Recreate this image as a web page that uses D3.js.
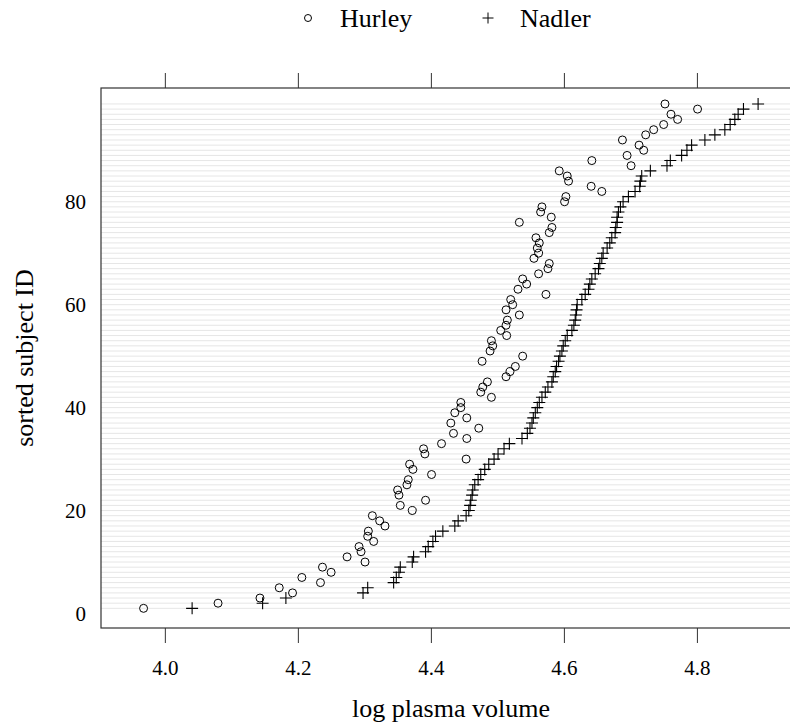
<!DOCTYPE html>
<html>
<head>
    <title>Plasma volume dot plot</title>
    <script src="https://d3js.org/d3.v7.min.js"></script>
    <style>
        body { margin: 0; background: #fff; }
        svg text { font-family: "Liberation Serif", "Times New Roman", serif; fill: #000; }
    </style>
</head>
<body>
<svg id="chart" width="790" height="728"></svg>

<script>
    // subject IDs sorted by Nadler value
    const subjectIds = d3.range(1, 100);

    const hurley = [
        3.968, 4.080, 4.143, 4.192, 4.172, 4.234, 4.206, 4.250, 4.237, 4.301,
        4.274, 4.295, 4.292, 4.314, 4.305, 4.306, 4.331, 4.323, 4.312, 4.372,
        4.354, 4.392, 4.352, 4.350, 4.364, 4.366, 4.401, 4.373, 4.368, 4.453,
        4.391, 4.389, 4.416, 4.454, 4.434, 4.472, 4.430, 4.454, 4.436, 4.445,
        4.445, 4.491, 4.475, 4.478, 4.485, 4.513, 4.519, 4.527, 4.477, 4.538,
        4.489, 4.493, 4.491, 4.514, 4.505, 4.513, 4.515, 4.533, 4.513, 4.523,
        4.520, 4.573, 4.531, 4.544, 4.538, 4.562, 4.576, 4.578, 4.555, 4.562,
        4.560, 4.563, 4.558, 4.578, 4.582, 4.533, 4.581, 4.565, 4.567, 4.601,
        4.603, 4.657, 4.641, 4.607, 4.605, 4.593, 4.701, 4.642, 4.695, 4.720,
        4.713, 4.688, 4.723, 4.735, 4.750, 4.771, 4.761, 4.801, 4.752
    ];

    const nadler = [
        4.041, 4.147, 4.182, 4.298, 4.305, 4.344, 4.348, 4.352, 4.354, 4.372,
        4.374, 4.392, 4.396, 4.403, 4.407, 4.418, 4.436, 4.441, 4.453, 4.457,
        4.459, 4.460, 4.462, 4.463, 4.466, 4.471, 4.475, 4.481, 4.487, 4.495,
        4.501, 4.510, 4.518, 4.537, 4.545, 4.549, 4.552, 4.554, 4.557, 4.560,
        4.563, 4.567, 4.572, 4.576, 4.582, 4.584, 4.587, 4.589, 4.592, 4.594,
        4.597, 4.599, 4.602, 4.605, 4.612, 4.615, 4.617, 4.618, 4.619, 4.620,
        4.627, 4.632, 4.637, 4.639, 4.642, 4.647, 4.652, 4.654, 4.657, 4.659,
        4.665, 4.669, 4.672, 4.677, 4.678, 4.680, 4.680, 4.682, 4.685, 4.689,
        4.697, 4.707, 4.714, 4.715, 4.717, 4.730, 4.755, 4.760, 4.777, 4.785,
        4.792, 4.812, 4.827, 4.842, 4.850, 4.857, 4.862, 4.870, 4.892
    ];

    const xTicks = [4.0, 4.2, 4.4, 4.6, 4.8];
    const yTicks = [0, 20, 40, 60, 80];
    const seriesNames = ["Hurley", "Nadler"];

    const svg = d3.select("#chart");

    // panel box (right side runs past the window edge, like the original)
    const panelLeft = 101, panelRight = 800, panelTop = 88, panelBottom = 628;

    const x = d3.scaleLinear().domain([3.904, 4.955]).range([panelLeft, panelRight]);
    const y = d3.scaleLinear().domain([-2.82, 102.1]).range([panelBottom, panelTop]);

    // light reference line for every subject
    svg.append("g")
        .selectAll("line")
        .data(subjectIds)
        .enter().append("line")
        .attr("x1", panelLeft)
        .attr("x2", panelRight)
        .attr("y1", d => y(d))
        .attr("y2", d => y(d))
        .attr("stroke", "#e6e6e6")
        .attr("stroke-width", 1);

    // Hurley = open circles
    svg.append("g")
        .selectAll("circle")
        .data(subjectIds)
        .enter().append("circle")
        .attr("cx", (d, i) => x(hurley[i]))
        .attr("cy", d => y(d))
        .attr("r", 4)
        .attr("fill", "none")
        .attr("stroke", "#000")
        .attr("stroke-width", 1);

    // Nadler = plus signs
    svg.append("g")
        .selectAll("path")
        .data(subjectIds)
        .enter().append("path")
        .attr("transform", (d, i) => `translate(${x(nadler[i])},${y(d)})`)
        .attr("d", "M-6,0H6M0,-6V6")
        .attr("fill", "none")
        .attr("stroke", "#000")
        .attr("stroke-width", 1.1);

    // frame
    svg.append("rect")
        .attr("x", panelLeft)
        .attr("y", panelTop)
        .attr("width", panelRight - panelLeft)
        .attr("height", panelBottom - panelTop)
        .attr("fill", "none")
        .attr("stroke", "#333")
        .attr("stroke-width", 1.2);

    // bottom axis with labels
    const xAxis = svg.append("g")
        .attr("transform", `translate(0,${panelBottom})`)
        .call(d3.axisBottom(x).tickValues(xTicks).tickFormat(d3.format(".1f"))
            .tickSize(15).tickSizeOuter(0).tickPadding(17));
    xAxis.select(".domain").remove();
    xAxis.selectAll("line").attr("stroke", "#333");
    xAxis.selectAll("text").attr("font-size", "21px").attr("font-family", null);

    // top axis, ticks only
    const xTop = svg.append("g")
        .attr("transform", `translate(0,${panelTop})`)
        .call(d3.axisTop(x).tickValues(xTicks).tickFormat("").tickSize(15).tickSizeOuter(0));
    xTop.select(".domain").remove();
    xTop.selectAll("line").attr("stroke", "#333");

    // left axis: labels only
    const yAxis = svg.append("g")
        .attr("transform", `translate(${panelLeft},0)`)
        .call(d3.axisLeft(y).tickValues(yTicks).tickSize(0).tickPadding(15));
    yAxis.select(".domain").remove();
    yAxis.selectAll("text").attr("font-size", "21px").attr("font-family", null);

    // axis titles
    svg.append("text")
        .attr("x", 451)
        .attr("y", 717)
        .attr("text-anchor", "middle")
        .attr("font-size", "26px")
        .text("log plasma volume");

    svg.append("text")
        .attr("transform", "translate(33,358) rotate(-90)")
        .attr("text-anchor", "middle")
        .attr("font-size", "26px")
        .text("sorted subject ID");

    // legend on top
    const legend = svg.append("g");
    legend.append("circle")
        .attr("cx", 308)
        .attr("cy", 18)
        .attr("r", 3.5)
        .attr("fill", "none")
        .attr("stroke", "#000");
    legend.append("path")
        .attr("transform", "translate(488,18)")
        .attr("d", "M-5.5,0H5.5M0,-5.5V5.5")
        .attr("stroke", "#000");
    legend.selectAll("text")
        .data(seriesNames)
        .enter().append("text")
        .attr("x", (d, i) => i === 0 ? 340 : 520)
        .attr("y", 27)
        .attr("font-size", "26px")
        .text(d => d);
</script>
</body>
</html>
